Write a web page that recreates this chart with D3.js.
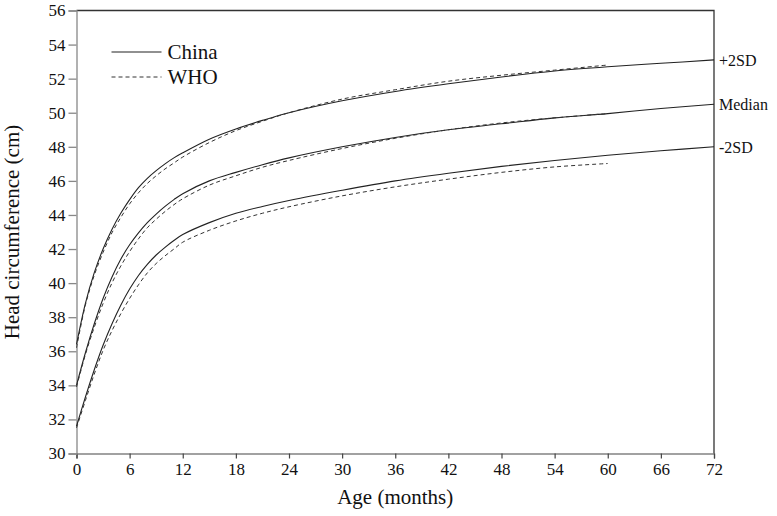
<!DOCTYPE html>
<html>
<head>
<meta charset="utf-8">
<script src="https://cdnjs.cloudflare.com/ajax/libs/d3/7.8.5/d3.min.js"></script>
<style>
body { margin:0; background:#fff; }
</style>
</head>
<body>
<script>
// Data
var chinaMonths = [0,1,2,3,4,5,6,7,8,9,10,11,12,15,18,21,24,30,36,42,48,54,60,66,72];
var chinaPlus2 = [36.4,38.8,40.6,42.0,43.15,44.1,44.9,45.6,46.15,46.6,47.0,47.35,47.65,48.45,49.05,49.55,50.0,50.7,51.25,51.7,52.1,52.45,52.7,52.9,53.1];
var chinaMedian = [34.0,35.9,37.6,39.1,40.35,41.4,42.25,42.95,43.55,44.05,44.5,44.9,45.25,46.0,46.5,46.95,47.35,48.0,48.55,49.0,49.35,49.7,49.95,50.25,50.5];
var chinaMinus2 = [31.6,33.3,34.9,36.35,37.6,38.7,39.65,40.45,41.1,41.65,42.1,42.5,42.85,43.55,44.1,44.5,44.85,45.45,46.0,46.45,46.85,47.2,47.5,47.77,48.0];

var whoMonths = [0,1,2,3,4,5,6,7,8,9,10,11,12,15,18,21,24,30,36,42,48,54,60];
var whoPlus2 = [36.2,38.7,40.45,41.8,42.95,43.85,44.65,45.3,45.85,46.3,46.7,47.05,47.4,48.25,48.95,49.5,50.0,50.8,51.35,51.85,52.2,52.5,52.8];
var whoMedian = [33.9,35.8,37.4,38.8,40.0,41.0,41.85,42.6,43.25,43.75,44.2,44.6,44.95,45.75,46.3,46.8,47.2,47.9,48.5,49.0,49.4,49.7,49.95];
var whoMinus2 = [31.5,33.1,34.65,36.05,37.2,38.2,39.1,39.9,40.6,41.15,41.6,42.0,42.4,43.1,43.65,44.1,44.48,45.12,45.65,46.1,46.5,46.82,47.02];

var xTicks = [0,6,12,18,24,30,36,42,48,54,60,66,72];
var yTicks = [30,32,34,36,38,40,42,44,46,48,50,52,54,56];
var curveLabels = ["+2SD","Median","-2SD"];

var serif = '"Liberation Serif", "Times New Roman", serif';

// Chart setup
var svgWidth = 777;
var svgHeight = 516;
var margin = {top: 10.5, right: 63, bottom: 62.5, left: 76.5};
var w = svgWidth - margin.left - margin.right;
var h = svgHeight - margin.top - margin.bottom;

var svg = d3.select("body")
            .append("svg")
            .attr("width", svgWidth)
            .attr("height", svgHeight)
            .style("font-family", serif);

var g = svg.append("g")
           .attr("transform", "translate(" + margin.left + "," + margin.top + ")");

var xScale = d3.scaleLinear().domain([0,72]).range([0,w]);
var yScale = d3.scaleLinear().domain([30,56]).range([h,0]);

// frame: top and right lines
g.append("path")
 .attr("d", "M0,0H" + w + "V" + h)
 .attr("fill", "none")
 .attr("stroke", "#333")
 .attr("stroke-width", 1.3);

// bottom axis
var bottomAxis = d3.axisBottom(xScale).tickValues(xTicks).tickSize(5).tickPadding(4);
var gx = g.append("g")
          .attr("transform", "translate(0," + h + ")")
          .call(bottomAxis);
gx.selectAll("path, line").attr("stroke", "#444").attr("stroke-width", 1.2);
gx.selectAll("text").style("font-family", serif).style("font-size", "17px").attr("fill", "#111");

// left axis
var leftAxis = d3.axisLeft(yScale).tickValues(yTicks).tickSize(8).tickPadding(3);
var gy = g.append("g").call(leftAxis);
gy.selectAll("path, line").attr("stroke", "#888").attr("stroke-width", 1.3);
gy.selectAll("text").style("font-family", serif).style("font-size", "17px").attr("fill", "#111");

// curves
var line = d3.line()
             .x(function(d){ return xScale(d[0]); })
             .y(function(d){ return yScale(d[1]); })
             .curve(d3.curveCatmullRom.alpha(0.5));

var chinaSeries = [chinaPlus2, chinaMedian, chinaMinus2];
var whoSeries = [whoPlus2, whoMedian, whoMinus2];

chinaSeries.forEach(function(vals){
    g.append("path")
     .datum(chinaMonths.map(function(m,i){ return [m, vals[i]]; }))
     .attr("d", line)
     .attr("fill", "none")
     .attr("stroke", "#222")
     .attr("stroke-width", 1.1);
});

whoSeries.forEach(function(vals){
    g.append("path")
     .datum(whoMonths.map(function(m,i){ return [m, vals[i]]; }))
     .attr("d", line)
     .attr("fill", "none")
     .attr("stroke", "#333")
     .attr("stroke-width", 1)
     .attr("stroke-dasharray", "4,3");
});

// labels at right end of china curves
chinaSeries.forEach(function(vals, i){
    g.append("text")
     .attr("x", w + 5)
     .attr("y", yScale(vals[vals.length-1]) + 6)
     .style("font-size", "16px")
     .attr("fill", "#111")
     .text(curveLabels[i]);
});

// legend
var legend = g.append("g").attr("transform", "translate(35,41.5)");
legend.append("line").attr("x1",0).attr("x2",50).attr("y1",0).attr("y2",0)
      .attr("stroke","#222").attr("stroke-width",1.1);
legend.append("text").attr("x",56).attr("y",7).style("font-size","21px").attr("fill","#111").text("China");
legend.append("line").attr("x1",0).attr("x2",50).attr("y1",25).attr("y2",25)
      .attr("stroke","#333").attr("stroke-width",1).attr("stroke-dasharray","4,3");
legend.append("text").attr("x",56).attr("y",32).style("font-size","21px").attr("fill","#111").text("WHO");

// axis titles
svg.append("text")
   .attr("x", margin.left + w/2)
   .attr("y", 504)
   .attr("text-anchor", "middle")
   .style("font-size", "21px")
   .attr("fill", "#111")
   .text("Age (months)");

svg.append("text")
   .attr("transform", "translate(19," + (margin.top + h/2) + ") rotate(-90)")
   .attr("text-anchor", "middle")
   .style("font-size", "21px")
   .attr("fill", "#111")
   .text("Head circumference (cm)");
</script>
</body>
</html>
